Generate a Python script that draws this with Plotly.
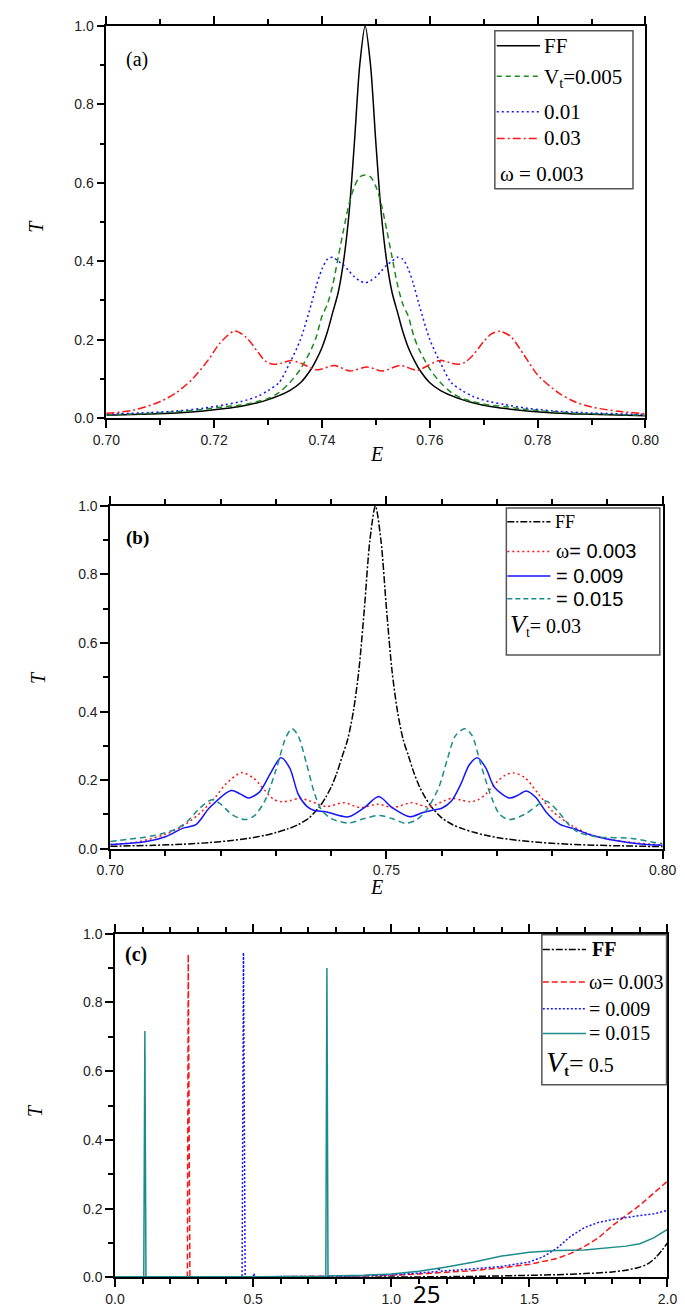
import plotly.graph_objects as go

W, H = 685, 1310
SERIF = "Liberation Serif"
SANS = "Liberation Sans"

# ---------------- Panel (a) data ----------------
E_A = [0.700, 0.708, 0.713, 0.718, 0.722, 0.725, 0.728, 0.730, 0.732, 0.734, 0.736,
       0.738, 0.739, 0.740, 0.741, 0.742, 0.743, 0.744, 0.745, 0.746, 0.747, 0.748,
       0.749, 0.750, 0.751, 0.752, 0.753, 0.754, 0.755, 0.756, 0.757, 0.758, 0.760,
       0.762, 0.764, 0.766, 0.768, 0.771, 0.774, 0.778, 0.783, 0.788, 0.800]
T_FF = [0.007, 0.010, 0.013, 0.018, 0.024, 0.030, 0.039, 0.047, 0.057, 0.070, 0.090,
        0.125, 0.150, 0.180, 0.220, 0.270, 0.320, 0.400, 0.520, 0.700, 0.900, 1.000,
        0.900, 0.700, 0.520, 0.400, 0.320, 0.270, 0.220, 0.180, 0.150, 0.125, 0.090,
        0.070, 0.057, 0.047, 0.039, 0.030, 0.024, 0.018, 0.013, 0.010, 0.006]
T_V005 = [0.008, 0.012, 0.016, 0.022, 0.029, 0.033, 0.042, 0.050, 0.065, 0.090, 0.125,
          0.175, 0.210, 0.260, 0.290, 0.340, 0.410, 0.480, 0.545, 0.590, 0.615, 0.620,
          0.615, 0.590, 0.545, 0.480, 0.410, 0.340, 0.290, 0.260, 0.210, 0.175, 0.125,
          0.090, 0.065, 0.050, 0.042, 0.033, 0.029, 0.022, 0.016, 0.012, 0.007]
T_V01 = [0.010, 0.014, 0.018, 0.025, 0.034, 0.042, 0.055, 0.070, 0.090, 0.140, 0.200,
         0.290, 0.340, 0.380, 0.405, 0.410, 0.400, 0.390, 0.375, 0.360, 0.350, 0.345,
         0.350, 0.360, 0.375, 0.390, 0.400, 0.410, 0.405, 0.380, 0.340, 0.290, 0.200,
         0.140, 0.090, 0.070, 0.055, 0.042, 0.034, 0.025, 0.018, 0.014, 0.009]

# Vt = 0.03, omega = 0.003 (also used in panel b)
E_R = [0.700, 0.705, 0.710, 0.713, 0.716, 0.719, 0.721, 0.7238, 0.726, 0.728, 0.7295,
       0.731, 0.7325, 0.7342, 0.736, 0.7391, 0.7423, 0.7452, 0.7484, 0.7512, 0.7545,
       0.7577, 0.7605, 0.7619, 0.7635, 0.7651, 0.7665, 0.768, 0.770, 0.7715, 0.773,
       0.775, 0.7775, 0.780, 0.7838, 0.7868, 0.790, 0.795, 0.800]
T_R = [0.012, 0.020, 0.042, 0.065, 0.100, 0.150, 0.190, 0.222, 0.205, 0.170, 0.145,
       0.137, 0.140, 0.147, 0.140, 0.123, 0.134, 0.120, 0.130, 0.120, 0.134,
       0.122, 0.140, 0.147, 0.142, 0.137, 0.142, 0.160, 0.195, 0.215, 0.221,
       0.208, 0.160, 0.110, 0.065, 0.042, 0.028, 0.017, 0.011]

# ---------------- Panel (b) data ----------------
E_B9 = [0.700, 0.7063, 0.710, 0.7132, 0.7155, 0.718, 0.7219, 0.7235, 0.725, 0.727, 0.729,
        0.7309, 0.7325, 0.734, 0.7355, 0.7368, 0.739, 0.7431, 0.746, 0.7486, 0.751,
        0.7542, 0.7565, 0.7583, 0.760, 0.7618, 0.7635, 0.765, 0.7665, 0.768, 0.7695,
        0.7722, 0.7737, 0.7753, 0.777, 0.779, 0.7815, 0.784, 0.787, 0.7917, 0.796, 0.800]
T_B9 = [0.012, 0.020, 0.035, 0.060, 0.070, 0.120, 0.170, 0.160, 0.148, 0.165, 0.220,
        0.265, 0.235, 0.160, 0.125, 0.112, 0.108, 0.093, 0.120, 0.152, 0.120,
        0.093, 0.105, 0.112, 0.118, 0.140, 0.190, 0.245, 0.265, 0.235, 0.180,
        0.148, 0.155, 0.168, 0.150, 0.105, 0.070, 0.058, 0.040, 0.023, 0.014, 0.010]

E_B15 = [0.700, 0.703, 0.706, 0.709, 0.712, 0.714, 0.716, 0.7184, 0.720, 0.722, 0.7243,
         0.726, 0.728, 0.730, 0.7318, 0.7329, 0.734, 0.7355, 0.737, 0.7382, 0.740,
         0.7431, 0.746, 0.7487, 0.751, 0.7535, 0.7555, 0.7573, 0.7595, 0.761, 0.7625,
         0.7642, 0.7655, 0.767, 0.769, 0.7705, 0.7722, 0.775, 0.7788, 0.781, 0.783,
         0.7847, 0.788, 0.7944, 0.7986, 0.800]
T_B15 = [0.021, 0.027, 0.033, 0.042, 0.058, 0.080, 0.115, 0.143, 0.130, 0.100, 0.085,
         0.095, 0.140, 0.230, 0.325, 0.350, 0.330, 0.250, 0.160, 0.114, 0.088,
         0.075, 0.088, 0.097, 0.088, 0.074, 0.085, 0.114, 0.180, 0.260, 0.330,
         0.350, 0.330, 0.250, 0.150, 0.100, 0.085, 0.100, 0.139, 0.110, 0.070,
         0.048, 0.035, 0.030, 0.018, 0.015]

# ---------------- Panel (c) data ----------------
E_CFF = [0.0, 0.5, 1.0, 1.3, 1.5, 1.6, 1.7, 1.8, 1.85, 1.9, 1.93, 1.96, 2.0]
T_CFF = [0.0, 0.0, 0.001, 0.003, 0.006, 0.008, 0.011, 0.016, 0.021, 0.030, 0.040, 0.060, 0.100]

E_C3 = [0.0, 0.262, 0.265, 0.271, 0.6, 0.8, 1.0, 1.1, 1.2, 1.3, 1.4, 1.5, 1.6, 1.65,
        1.7, 1.75, 1.8, 1.85, 1.9, 1.95, 2.0]
T_C3 = [0.001, 0.001, 0.940, 0.001, 0.002, 0.003, 0.006, 0.010, 0.014, 0.020, 0.028,
        0.038, 0.055, 0.070, 0.090, 0.115, 0.150, 0.180, 0.210, 0.245, 0.280]

E_C9 = [0.0, 0.460, 0.465, 0.471, 0.500, 0.503, 0.506, 0.8, 1.0, 1.1, 1.168, 1.172,
        1.176, 1.3, 1.4, 1.5, 1.55, 1.6, 1.65, 1.7, 1.75, 1.8, 1.85, 1.9, 1.95, 2.0]
T_C9 = [0.001, 0.001, 0.945, 0.001, 0.002, 0.012, 0.002, 0.003, 0.007, 0.012, 0.017,
        0.030, 0.018, 0.025, 0.032, 0.045, 0.060, 0.085, 0.120, 0.145, 0.160, 0.168,
        0.175, 0.180, 0.185, 0.195]

E_C15 = [0.0, 0.104, 0.108, 0.112, 0.5, 0.763, 0.767, 0.771, 0.9, 1.0, 1.1, 1.2, 1.3,
         1.4, 1.5, 1.6, 1.7, 1.8, 1.85, 1.9, 1.95, 2.0]
T_C15 = [0.002, 0.002, 0.717, 0.002, 0.002, 0.003, 0.900, 0.004, 0.006, 0.010, 0.018,
         0.030, 0.045, 0.062, 0.073, 0.078, 0.080, 0.087, 0.091, 0.098, 0.115, 0.140]

BLACK = "black"
GREEN = "#1e8a1e"
BLUE = "#1414ff"
RED = "#ff1414"
TEAL = "#1a8c8c"

fig = go.Figure()


def add(x, y, color, dash, xa, ya, shape="spline"):
    fig.add_trace(go.Scatter(x=x, y=y, mode="lines", xaxis=xa, yaxis=ya,
                             line=dict(color=color, width=1.5, dash=dash, shape=shape,
                                       smoothing=0.8 if shape == "spline" else None),
                             showlegend=False, hoverinfo="skip"))


# panel a
add(E_A, T_FF, BLACK, "solid", "x", "y")
add(E_A, T_V005, GREEN, "6px,4px", "x", "y")
add(E_A, T_V01, BLUE, "2px,3px", "x", "y")
add(E_R, T_R, RED, "8px,3px,2px,3px", "x", "y")
# panel b
add(E_A, T_FF, BLACK, "7px,2px,2px,2px", "x2", "y2")
add(E_R, T_R, RED, "2px,3px", "x2", "y2")
add(E_B9, T_B9, BLUE, "solid", "x2", "y2")
add(E_B15, T_B15, TEAL, "6px,4px", "x2", "y2")
# panel c
add(E_CFF, T_CFF, BLACK, "7px,2px,2px,2px", "x3", "y3")
add(E_C3, T_C3, RED, "6px,3px", "x3", "y3", "linear")
add(E_C9, T_C9, BLUE, "2px,2px", "x3", "y3", "linear")
add(E_C15, T_C15, TEAL, "solid", "x3", "y3", "linear")


def px(x):
    return x / W


def py(y):
    return 1 - y / H


def axis_common():
    return dict(showline=True, linecolor="black", linewidth=1.6, ticks="outside",
                ticklen=8, tickwidth=1.5, tickcolor="black", showgrid=False, zeroline=False,
                tickfont=dict(family=SANS, size=14, color="#222"), fixedrange=True)


def xax(dom, rng, anchor, dtick, minor, fmt, tickvals=None):
    d = axis_common()
    d.update(domain=[px(dom[0]), px(dom[1])], range=rng, anchor=anchor, mirror="ticks",
             minor=dict(ticks="outside", ticklen=5, tickwidth=1.5, tickcolor="black",
                        dtick=minor, tick0=rng[0]),
             tickformat=fmt)
    if tickvals is not None:
        d.update(tickmode="array", tickvals=tickvals)
    else:
        d.update(dtick=dtick, tick0=rng[0])
    return d


def yax(top, bottom, anchor):
    d = axis_common()
    d.update(domain=[py(bottom), py(top)], range=[0, 1], anchor=anchor, mirror=True,
             dtick=0.2, tick0=0, tickformat=".1f",
             minor=dict(ticks="outside", ticklen=5, tickwidth=1.5, tickcolor="black",
                        dtick=0.1, tick0=0))
    return d


fig.update_layout(
    width=W, height=H, margin=dict(l=0, r=0, t=0, b=0),
    paper_bgcolor="white", plot_bgcolor="white", showlegend=False,
    xaxis=xax((88, 650), [0.70, 0.80], "y", 0.02, 0.01, ".2f"),
    yaxis=yax(10, 407, "x"),
    xaxis2=xax((92, 668), [0.70, 0.80], "y2", None, 0.01, ".2f", [0.70, 0.75, 0.80]),
    yaxis2=yax(496, 843, "x2"),
    xaxis3=xax((97, 673), [0.0, 2.0], "y3", 0.5, 0.1, ".1f"),
    yaxis3=yax(929, 1277, "x3"),
)

shapes = []
annotations = []


def box(x0, y0, x1, y1):
    shapes.append(dict(type="rect", xref="paper", yref="paper", x0=px(x0), x1=px(x1),
                       y0=py(y1), y1=py(y0), line=dict(color="#555", width=1.5),
                       fillcolor="white", layer="above"))


def sample(x0, x1, y, color, dash):
    shapes.append(dict(type="line", xref="paper", yref="paper", x0=px(x0), x1=px(x1),
                       y0=py(y), y1=py(y), line=dict(color=color, width=1.5, dash=dash),
                       layer="above"))


def txt(x, y, text, size=20, family=SERIF, xanchor="left", angle=0, color="black"):
    annotations.append(dict(x=px(x), y=py(y), xref="paper", yref="paper", text=text,
                            showarrow=False, xanchor=xanchor, yanchor="middle",
                            textangle=angle,
                            font=dict(family=family, size=size, color=color)))


# legend a
box(493, 15, 637, 175)
sample(495, 540, 30, BLACK, "solid")
txt(542, 30, "FF", 21)
sample(495, 540, 61, GREEN, "5px,4px")
txt(542, 63, "V<sub>t</sub>=0.005", 21)
sample(495, 540, 97, BLUE, "2px,3px")
txt(542, 97, "0.01", 21)
sample(495, 540, 124, RED, "8px,3px,2px,3px")
txt(542, 124, "0.03", 21)
txt(496, 160, "ω = 0.003", 21)

# legend b
box(505, 498, 665, 647)
sample(506, 551, 512, BLACK, "7px,2px,2px,2px")
txt(554, 512, "FF", 18)
sample(506, 551, 542, RED, "2px,3px")
txt(555, 542, "ω<span style='font-family:Liberation Sans'>= 0.003</span>", 20)
sample(506, 551, 567, BLUE, "solid")
txt(555, 567, "= 0.009", 20, SANS)
sample(506, 551, 590, TEAL, "5px,3px")
txt(555, 590, "= 0.015", 20, SANS)
txt(507, 617, "<i><span style='font-size:26px'>V</span></i><sub>t</sub>= 0.03", 20)

# legend c
box(542, 930, 672, 1082)
sample(543, 588, 945, BLACK, "7px,2px,2px,2px")
txt(592, 945, "<b>FF</b>", 20)
sample(543, 588, 978, RED, "6px,3px")
txt(589, 978, "ω= 0.003", 20)
sample(543, 588, 1005, BLUE, "2px,2px")
txt(589, 1005, "= 0.009", 20)
sample(543, 588, 1030, TEAL, "solid")
txt(589, 1030, "= 0.015", 20)
txt(544, 1059, "<i><span style='font-size:30px'>V</span></i><sub><b>t</b></sub><span style='font-size:26px'>=</span> 0.5", 20)

# panel labels and axis titles
txt(106, 44, "(a)", 20)
txt(106, 528, "<b>(b)</b>", 19)
txt(105, 950, "<b>(c)</b>", 20)
txt(15, 213, "<i>T</i>", 20, xanchor="center", angle=-90)
txt(17, 670, "<i>T</i>", 20, xanchor="center", angle=-90)
txt(14, 1108, "<i>T</i>", 20, xanchor="center", angle=-90)
txt(370, 443, "<i>E</i>", 20, xanchor="center")
txt(370, 882, "<i>E</i>", 20, xanchor="center")
txt(422, 1293, "25", 24, "Noto Sans", xanchor="center")

fig.update_layout(shapes=shapes, annotations=annotations)
fig.write_html("out.html")
